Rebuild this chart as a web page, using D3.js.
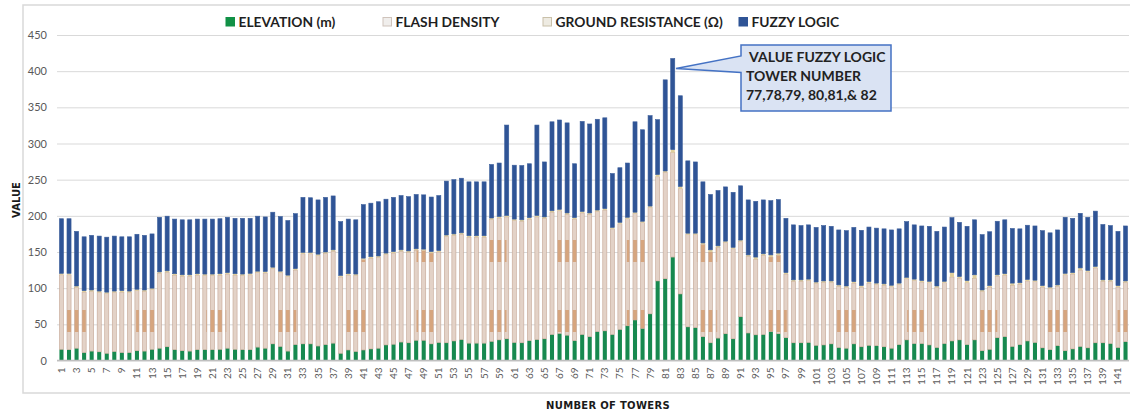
<!DOCTYPE html>
<html>
<head>
<meta charset="utf-8">
<script src="https://cdn.jsdelivr.net/npm/d3@7"></script>
<style>
body { margin: 0; background: #fff; }
</style>
</head>
<body>
<div id="chart"></div>
<script>
var width = 1130,
    height = 415;

// tower numbers 1..142
var towers = d3.range(1, 143);
var seriesKeys = ["elevation", "flash", "ground", "fuzzy"];
var seriesNames = ["ELEVATION (m)", "FLASH DENSITY", "GROUND RESISTANCE (\u03A9)", "FUZZY LOGIC"];
var yTicks = [0, 50, 100, 150, 200, 250, 300, 350, 400, 450];

var elevation = [15.5,15,17,11,13,12,10,12.5,11,11,
    13.5,13,15.5,17,19,15,13.5,13,15,15,
    15,15.5,17,15.5,15,15,18.5,17,23,19.5,
    13,22,23,23,20,22,24,10,14.5,12.5,
    14.5,16,17,21.5,22.5,25.5,24.5,28,28,23,
    25,24.5,27,29,24,24,24,26.5,28.5,30,
    25,24.5,27.5,29,30,36,37.5,35,27.5,36,
    33,40,41,36,43,48,56,44.5,64.5,110,
    113,143,92,46.5,45.5,33,24.5,31,37,30,
    60.5,38,35.5,36,40,37,31.5,24.5,24.5,25,
    21,21.5,23,18,17,23,19,21,20.5,19,
    17,22,28.5,23.5,23.5,21.5,18,23.5,27,28.5,
    22,28.5,13.5,15.5,31.5,33,19.5,22,27,25,
    17.5,15,20.5,13.5,16,19.5,17.5,24.5,24.5,23.5,
    18,26];

var flashDensity = [103,103.5,84,83.5,82.5,82,82.5,81.5,83.5,83,
    83,82.5,82.5,103.5,103,103,103,103.5,103,102.5,
    102.5,102.5,102.5,102.5,102.5,103.5,103,104,104,102,
    103,103,124.5,124.5,125,126,127,105.5,103.5,105,
    125,125.5,125.5,125,126,125.5,125,124.5,124,125.5,
    125,147,146,145.5,146.5,146.5,146.5,168.5,168.5,168.5,
    168.5,168,168,169.5,166.5,169,169.5,167,168,168,
    169,166,167,146,146,148,147,146,147,144,
    147,144.5,145.5,127.5,128.5,127.5,125.5,125.5,126,124.5,
    104,106,104.5,109.5,103,108.5,88,85,85,85.5,
    85.5,86.5,85,84.5,84,84,82.5,86,84.5,85,
    85,83,84.5,87,85,86,83,84,88.5,85.5,
    85.5,85,82,86,85,85,84.5,83.5,83,84,
    84,84.5,82,105,103.5,105.5,105,103.5,85,86,
    83.5,82];

var groundResistance = [2,2,2,2,2,2,2,2,2,2,
    2,2,2,2,2,2,2,2,2,2,
    2,2,2,2,2,2,2,2,2,2,
    2,2,2,2,2,2,2,2,2,2,
    2,2,2,2,2,2,2,2,2,2,
    2,2,2,2,2,2,2,2,2,2,
    2,2,2,2,2,2,2,2,2,2,
    2,2,2,2,2,2,2,2,2,3,
    2,4,3,2,2,2,3,2,2,2,
    2,2,3,2,3,3,2,2,2,2,
    2,2,2,2,2,2,2,2,2,2,
    2,2,2,2,2,2,2,2,6,2,
    3,5,2,2,2,2,3,2,2,2,
    2,2,2,2,2,3,2,2,2,2,
    2,2];

var fuzzyLogic = [75.5,75.5,75.5,74.5,75.5,76,76,76,74.5,75,
    76,75.5,75,75.5,75.5,75.5,76,76,75.5,76,
    76,76,76.5,76.5,77,76,76,75.5,76,75.5,
    75.5,76,76,75.5,75,75.5,74.5,74.5,75.5,75,
    74,74,75,74.5,75,75,75,75,75,75.5,
    76,74.5,75,75.5,74.5,74.5,74.5,74,74,125,
    74.5,75,74.5,125,76,123,123.5,124.5,74.5,124.5,
    123,125.5,125.5,74.5,75.5,75,125,126.5,125,76,
    126,126,125.5,100,98.5,84.5,76.5,76.5,75,76,
    75,76,77,74.5,75,74,75,76,75,75,
    75.5,76.5,75.5,76,76.5,75,76.5,75.5,76,76,
    76.5,75,77,75,75.5,76,75.5,75,76,75,
    75,76,76.5,74.5,74,74.5,75.5,74.5,75,75,
    76,75,76,77.5,75,75.5,73.5,76.5,76.5,75,
    75,76];

var rows = towers.map(function(t, i) {
    return {
        tower: t,
        elevation: elevation[i],
        flash: flashDensity[i],
        ground: groundResistance[i],
        fuzzy: fuzzyLogic[i]
    };
});

var colors = {
    elevation: "#17894f",
    flash: "url(#flashPat)",
    ground: "#e0cf9c",
    fuzzy: "#2f5496"
};

var svg = d3.select("#chart").append("svg")
    .attr("width", width)
    .attr("height", height)
    .style("background-color", "#fff");

var defs = svg.append("defs");
// Excel-like texture of the flash density fill, with the orange moire blobs
var pat = defs.append("pattern")
    .attr("id", "flashPat")
    .attr("patternUnits", "userSpaceOnUse")
    .attr("x", 66).attr("y", 240)
    .attr("width", 70.1).attr("height", 70);
pat.append("rect").attr("width", 70.1).attr("height", 70).attr("fill", "#e3d2c7");
pat.append("rect").attr("width", 20).attr("height", 22).attr("fill", "#d6a57e");

// chart border
svg.append("rect")
    .attr("x", 23).attr("y", 5)
    .attr("width", 1130).attr("height", 388)
    .attr("fill", "none")
    .attr("stroke", "#d9d9d9")
    .attr("stroke-width", 1.5);

var x = d3.scaleBand()
    .domain(towers)
    .range([57.7, 1129.3])
    .paddingInner(0.46)
    .paddingOuter(0.23);

var y = d3.scaleLinear()
    .domain([0, 450])
    .range([360.5, 35]);

// gridlines + y labels
var yAxis = svg.append("g")
    .attr("transform", "translate(57,0)")
    .call(d3.axisLeft(y).tickValues(yTicks).tickSize(-1072).tickPadding(10));
yAxis.select(".domain").remove();
yAxis.selectAll("line").attr("stroke", "#d9d9d9");
yAxis.selectAll("text")
    .attr("fill", "#595959")
    .style("font-family", "Lato, 'Open Sans', sans-serif")
    .style("font-size", "11px");

var stack = d3.stack().keys(seriesKeys)(rows);

svg.append("g").selectAll("g")
    .data(stack)
    .enter()
    .append("g")
    .attr("fill", function(d) { return colors[d.key]; })
    .attr("stroke", function(d) {
        if (d.key === "flash") return "#c4a695";
        if (d.key === "fuzzy") return "#3a5d9a";
        return "none";
    })
    .attr("stroke-width", 0.6)
    .selectAll("rect")
    .data(function(d) { return d; })
    .enter()
    .append("rect")
    .attr("x", function(d) { return x(d.data.tower); })
    .attr("width", x.bandwidth())
    .attr("y", function(d) { return y(d[1]); })
    .attr("height", function(d) { return y(d[0]) - y(d[1]); });

// x axis
var xAxis = svg.append("g")
    .attr("transform", "translate(0," + y(0) + ")")
    .call(d3.axisBottom(x).tickValues(towers.filter(function(t) { return t % 2 === 1; })).tickSize(0));
xAxis.select(".domain")
    .attr("stroke", "#bfbfbf")
    .attr("stroke-width", 1.5)
    .attr("d", "M57,0H1129");
xAxis.selectAll("text")
    .attr("transform", "rotate(-90)")
    .attr("x", -7)
    .attr("y", 0)
    .attr("dy", "0.35em")
    .style("text-anchor", "end")
    .attr("fill", "#595959")
    .style("font-family", "Lato, 'Open Sans', sans-serif")
    .style("font-size", "10px");

// axis titles
svg.append("text")
    .attr("x", 608)
    .attr("y", 409)
    .attr("text-anchor", "middle")
    .style("font-family", "'DejaVu Sans', sans-serif")
    .style("font-weight", "bold")
    .style("font-size", "10px")
    .style("letter-spacing", "0.3px")
    .attr("fill", "#1a1a1a")
    .text("NUMBER OF TOWERS");

svg.append("text")
    .attr("transform", "translate(20,200) rotate(-90)")
    .attr("text-anchor", "middle")
    .style("font-family", "'DejaVu Sans', sans-serif")
    .style("font-weight", "bold")
    .style("font-size", "10px")
    .attr("fill", "#1a1a1a")
    .text("VALUE");

// legend
var legendX = [226, 383, 543, 739];
var legendSwatch = [
    { fill: "#119146", stroke: "#119146" },
    { fill: "#f0eeec", stroke: "#cfc3bb" },
    { fill: "#eeebe2", stroke: "#c9c0a9" },
    { fill: "#2f5496", stroke: "#2f5496" }
];
var legend = svg.append("g").selectAll("g")
    .data(seriesNames)
    .enter()
    .append("g")
    .attr("transform", function(d, i) { return "translate(" + legendX[i] + ",0)"; });
legend.append("rect")
    .attr("x", 0).attr("y", 17.5)
    .attr("width", 8.5).attr("height", 8.5)
    .attr("fill", function(d, i) { return legendSwatch[i].fill; })
    .attr("stroke", function(d, i) { return legendSwatch[i].stroke; });
legend.append("text")
    .attr("x", 12.5)
    .attr("y", 26.5)
    .style("font-family", "Lato, 'Open Sans', sans-serif")
    .style("font-weight", "bold")
    .style("font-size", "13.8px")
    .attr("fill", "#1f1f1f")
    .text(function(d) { return d; });

// callout
svg.append("path")
    .attr("d", "M741,45H891V111H741V72.5L676,68.5L741,56Z")
    .attr("fill", "#dae3f3")
    .attr("stroke", "#4472c4")
    .attr("stroke-width", 1.5);

var callout = ["VALUE FUZZY LOGIC", "TOWER NUMBER", "77,78,79, 80,81,& 82"];
var calloutX = [749, 746, 746];
svg.append("g").selectAll("text")
    .data(callout)
    .enter()
    .append("text")
    .attr("x", function(d, i) { return calloutX[i]; })
    .attr("y", function(d, i) { return 62 + i * 19.2; })
    .style("font-family", "Lato, 'Open Sans', sans-serif")
    .style("font-weight", "bold")
    .style("font-size", "14px")
    .attr("fill", "#222")
    .text(function(d) { return d; });
</script>
</body>
</html>
